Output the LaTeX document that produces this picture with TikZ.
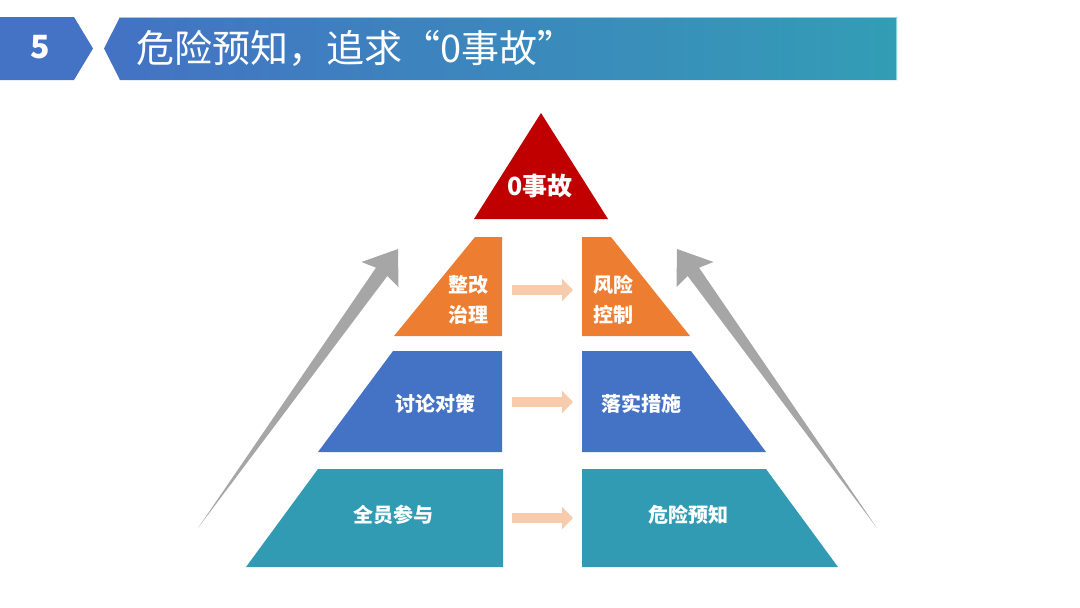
\documentclass[tikz,border=0pt]{standalone}
\usepackage{fontspec}
\setmainfont{Noto Sans CJK SC}
\usetikzlibrary{arrows.meta}
\definecolor{hblue}{HTML}{4472C4}
\definecolor{hteal}{HTML}{339DB5}
\definecolor{hline}{HTML}{8ED3E3}
\definecolor{pred}{HTML}{C00000}
\definecolor{porange}{HTML}{ED7D31}
\definecolor{pblue}{HTML}{4472C4}
\definecolor{pteal}{HTML}{329BB4}
\definecolor{agray}{HTML}{A6A6A6}
\definecolor{peach}{HTML}{F8CBAD}
\begin{document}
\begin{tikzpicture}[x=1pt,y=-1pt,
  every node/.style={inner sep=0pt, text=white},
  lbl/.style={font=\bfseries\fontsize{20}{30}\selectfont, align=center},
  pk/.style={draw=peach, line width=10pt, -{Triangle[length=11pt,width=22pt]}, shorten <=10pt, shorten >=9pt},
  grayarrow/.style={fill=agray}]
\useasboundingbox (0,0) rectangle (1080,608);
% header
\fill[hblue] (0,17) -- (74,17) -- (93,48.5) -- (74,80) -- (0,80) -- cycle;
\shade[left color=hblue, right color=hteal] (120,17) -- (897,17) -- (897,80) -- (120,80) -- (104,48.5) -- cycle;
\draw[hline, line width=0.8pt] (120,17.4) -- (896.6,17.4) -- (896.6,80);
\node[font=\bfseries\fontsize{32}{32}\selectfont] (num) at (40,47) {5};
\node[anchor=west, font=\fontsize{38}{38}\selectfont] (title) at (136,48) {危险预知，追求“0事故”};
% gray arrows
\fill[grayarrow] (198,528) -- (387.4,275.9) -- (398.5,287) -- (398,249) -- (361.5,262) -- (376.0,267.7) -- cycle;
\fill[grayarrow] (877,528) -- (687.6,275.9) -- (676.5,287) -- (677,249) -- (713.5,262) -- (699.0,267.7) -- cycle;
% pyramid
\fill[pred] (541,113) -- (608,219) -- (474,219) -- cycle;
\node[font=\bfseries\fontsize{25}{25}\selectfont] (top) at (540,186) {0事故};
\fill[porange] (475,237) -- (502,237) -- (502,336) -- (394,336) -- cycle;
\fill[porange] (582,237) -- (611,237) -- (690,336) -- (582,336) -- cycle;
\fill[pblue] (393,351) -- (502,351) -- (502,452) -- (318,452) -- cycle;
\fill[pblue] (582,351) -- (691,351) -- (766,452) -- (582,452) -- cycle;
\fill[pteal] (318,469) -- (503,469) -- (503,567) -- (246,567) -- cycle;
\fill[pteal] (582,469) -- (766,469) -- (838,567) -- (582,567) -- cycle;
% labels
\node[lbl] (zg) at (468,300) {整改\\治理};
\node[lbl] (fx) at (613,300) {风险\\控制};
\node[lbl] (tl) at (435,404) {讨论对策};
\node[lbl] (ls) at (641,404) {落实措施};
\node[lbl] (qy) at (393,515) {全员参与};
\node[lbl] (wx) at (688,515) {危险预知};
% peach arrows
\coordinate (oL) at (502,290); \coordinate (oR) at (582,290);
\coordinate (bL) at (502,402); \coordinate (bR) at (582,402);
\coordinate (tL) at (502,518); \coordinate (tR) at (582,518);
\draw[pk] (oL) -- (oR);
\draw[pk] (bL) -- (bR);
\draw[pk] (tL) -- (tR);
\end{tikzpicture}
\end{document}
